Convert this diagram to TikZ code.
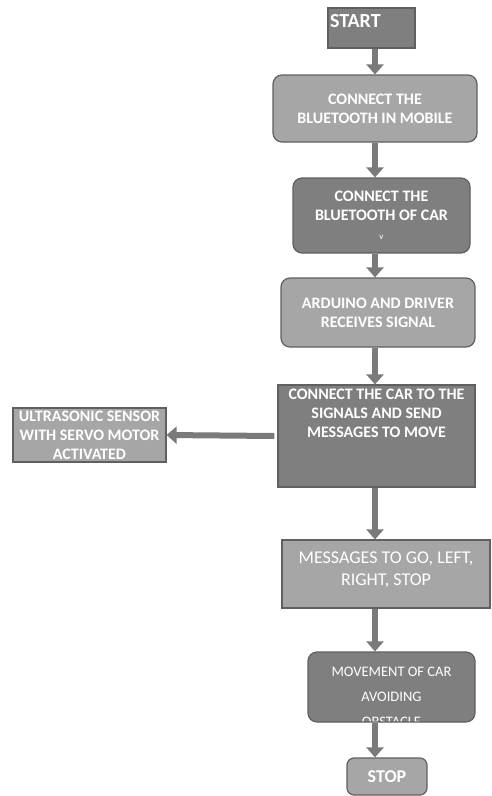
\documentclass[tikz,border=0pt]{standalone}
\usepackage{fontspec}
\setmainfont{Carlito}
\usetikzlibrary{arrows.meta}

\definecolor{boxdark}{HTML}{7F7F7F}
\definecolor{boxlight}{HTML}{A6A6A6}
\definecolor{boxedge}{HTML}{606060}
\definecolor{arrowgray}{HTML}{7A7A7A}

\tikzset{
	darkbox/.style={draw=boxedge, fill=boxdark, line width=1.2pt, text=white, align=center, inner sep=0pt,
		font=\bfseries\fontsize{16}{19}\selectfont},
	lightbox/.style={darkbox, fill=boxlight},
	inlabel/.style={anchor=north, text=white, align=center, inner sep=0pt},
	flow/.style={draw=arrowgray, line width=6pt, -{Triangle[width=17pt,length=10pt]}}
}

\begin{document}
\begin{tikzpicture}[x=1pt,y=-1pt]
			\useasboundingbox (0,0) rectangle (492,796);
			\coordinate (col) at (375,0);
			\node (start) [darkbox, text width=83pt, align=left, inner xsep=2pt, text height=19pt, text depth=21pt,
				font=\bfseries\fontsize{20}{22}\selectfont] at (371.5,28) {START};
			\node (b1) [lightbox, rounded corners=9pt, minimum width=204pt, minimum height=67pt] at (375,108.5)
				{CONNECT THE\\BLUETOOTH IN MOBILE};
			\node (b2) [darkbox, rounded corners=9pt, minimum width=177pt, minimum height=75pt] at (381.5,215.5)
				{CONNECT THE\\BLUETOOTH OF CAR\\{\mdseries\small v}};
			\node (b3) [lightbox, rounded corners=9pt, minimum width=194pt, minimum height=69pt] at (378,312.5)
				{ARDUINO AND DRIVER\\RECEIVES SIGNAL};
			\node (b4) [darkbox, minimum width=197pt, minimum height=102pt,
				label={[inlabel, yshift=-4.5pt, font=\bfseries\fontsize{16}{19}\selectfont]north:CONNECT THE CAR TO THE\\SIGNALS AND SEND\\MESSAGES TO MOVE}]
				at (376.5,436) {};
			\node (sensor) [lightbox, minimum width=153pt, minimum height=54pt] at (89.5,435)
				{ULTRASONIC SENSOR\\WITH SERVO MOTOR\\ACTIVATED};
			\node (b5) [lightbox, minimum width=208pt, minimum height=68pt,
				label={[inlabel, yshift=-12pt, font=\fontsize{18}{22}\selectfont]north:MESSAGES TO GO, LEFT,\\RIGHT, STOP}]
				at (386,574) {};
			\node (b6) [darkbox, rounded corners=9pt, minimum width=167pt, minimum height=70pt,
				path picture={\node [inlabel, font=\fontsize{14.5}{25}\selectfont]
					at ([yshift=-9pt]path picture bounding box.north) {MOVEMENT OF CAR\\AVOIDING\\OBSTACLE};}]
				at (391.5,687) {};
			\node (stop) [lightbox, rounded corners=7pt, minimum width=80pt, minimum height=37pt,
				font=\bfseries\fontsize{18}{20}\selectfont] at (387,776.5) {STOP};

			\draw[flow] (start.south -| col) -- (b1.north -| col);
			\draw[flow] (b1.south -| col) -- (b2.north -| col);
			\draw[flow] (b2.south -| col) -- (b3.north -| col);
			\draw[flow] (b3.south -| col) -- (b4.north -| col);
			\draw[flow] ([xshift=-3pt]b4.west) -- (sensor.east);
			\draw[flow] (b4.south -| col) -- (b5.north -| col);
			\draw[flow] (b5.south -| col) -- (b6.north -| col);
			\draw[flow] (b6.south -| col) -- (stop.north -| col);
		\end{tikzpicture}
\end{document}
